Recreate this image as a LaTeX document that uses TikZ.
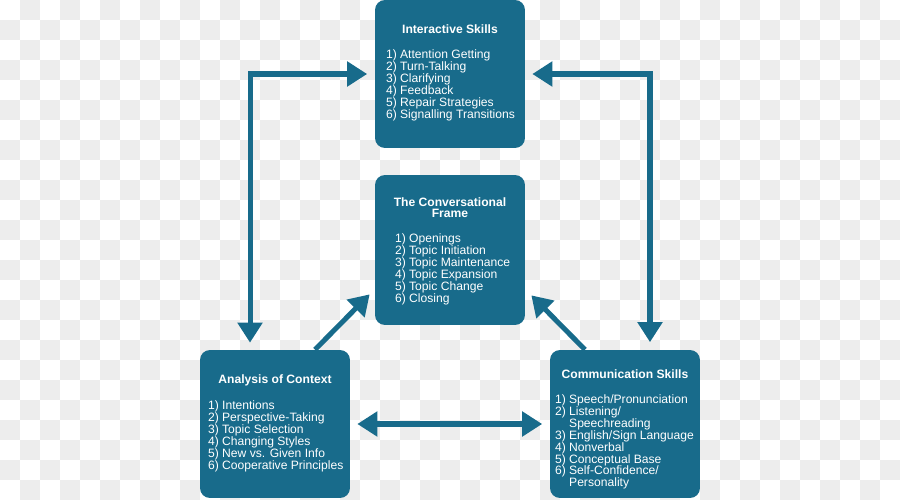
\documentclass[tikz,border=0pt]{standalone}
\usepackage{fontspec}
\setmainfont{Liberation Sans}
\usetikzlibrary{arrows.meta,calc}
\definecolor{skillblue}{HTML}{186B8B}
\definecolor{checkgray}{HTML}{EDEDED}

\begin{document}
\begin{tikzpicture}[x=0.02cm, y=-0.02cm,
    bigtip/.tip={Triangle[width=13.7pt,length=11.4pt]},
    box/.style={fill=skillblue, rounded corners=0.2cm, minimum width=3cm, minimum height=2.96cm, inner sep=0},
    heading/.style={text=white, font=\fontsize{6.9}{6.8}\selectfont\bfseries, align=center, inner sep=0},
    items/.style={text=white, font=\fontsize{6.9}{6.8}\selectfont, align=left, anchor=north west, inner sep=0},
    link/.style={draw=skillblue, line width=2.85pt},
    oneway/.style={link, -bigtip},
    twoway/.style={link, bigtip-bigtip, shorten <=0.14cm, shorten >=0.15cm},
]

% --- Background checker ---
\fill[white] (0,0) rectangle (900,500);
\foreach \i in {1,3,...,43} {
    \foreach \j in {0,2,...,24} {
        \fill[checkgray] (20*\i,20*\j) rectangle +(20,20);
    }
}
\foreach \i in {0,2,...,44} {
    \foreach \j in {1,3,...,23} {
        \fill[checkgray] (20*\i,20*\j) rectangle +(20,20);
    }
}
\useasboundingbox (0,0) rectangle (900,500);

% --- Boxes ---
\node[box] (inter) at (450,74) {};
\node[box, minimum height=3cm] (frame) at (450,250) {};
\node[box] (analysis) at (275,424) {};
\node[box] (comm) at (625,424) {};

% --- Interactive skills ---
\node[heading] (inter-title) at ($(inter.north)+(0,30)$) {Interactive Skills};
\node[items] (inter-list) at ($(inter.north west)+(11,49.5)$)
    {1) Attention Getting\\2) Turn-Talking\\3) Clarifying\\4) Feedback\\5) Repair Strategies\\6) Signalling Transitions};

% --- Conversational frame ---
\node[heading] (frame-title) at ($(frame.north)+(0,33)$) {The Conversational\\Frame};
\node[items] (frame-list) at ($(frame.north west)+(20,58.5)$)
    {1) Openings\\2) Topic Initiation\\3) Topic Maintenance\\4) Topic Expansion\\5) Topic Change\\6) Closing};

% --- Analysis of context ---
\node[heading] (analysis-title) at ($(analysis.north)+(0,31)$) {Analysis of Context};
\node[items] (analysis-list) at ($(analysis.north west)+(8,50.5)$)
    {1) Intentions\\2) Perspective-Taking\\3) Topic Selection\\4) Changing Styles\\5) New vs. Given Info\\6) Cooperative Principles};

% --- Communication skills ---
\node[heading] (comm-title) at ($(comm.north)+(0,25)$) {Communication Skills};
\node[items] (comm-list) at ($(comm.north west)+(5,44.5)$)
    {1) Speech/Pronunciation\\2) Listening/\\\hphantom{2) }Speechreading\\3) English/Sign Language\\4) Nonverbal\\5) Conceptual Base\\6) Self-Confidence/\\\hphantom{6) }Personality};

% --- Arrows ---
\draw[twoway] ([xshift=-0.5cm]analysis.north) |- (inter.west);
\draw[twoway] (inter.east) -| ([xshift=0.5cm]comm.north);
\draw[oneway] ([xshift=0.8cm]analysis.north) -- ($(frame.south west)+(-5,-31)$);
\draw[oneway] ([xshift=-0.8cm]comm.north) -- ($(frame.south east)+(6,-30)$);
\draw[twoway] (analysis.east) -- (comm.west);

\end{tikzpicture}
\end{document}
